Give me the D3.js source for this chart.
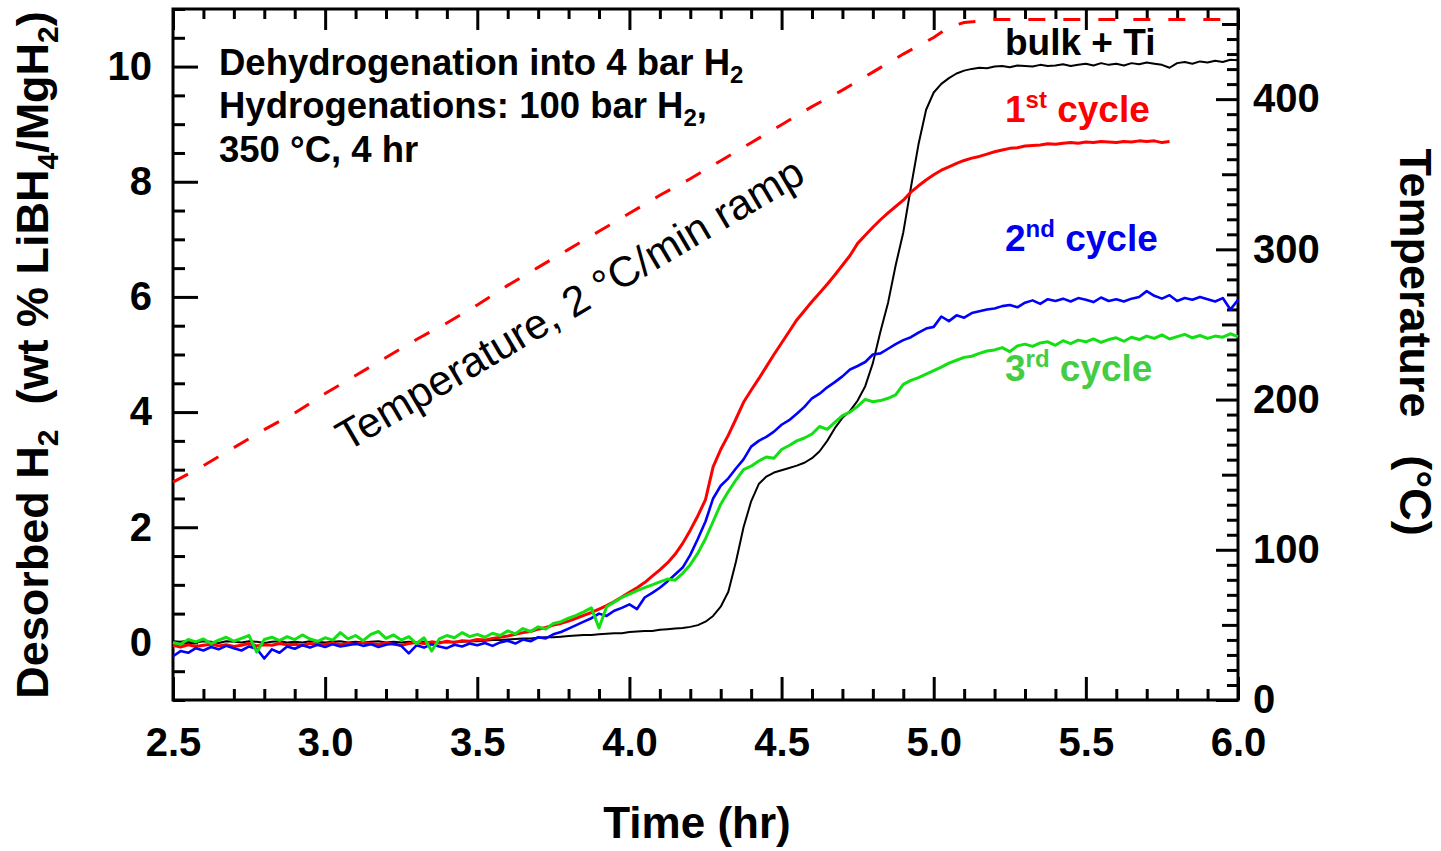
<!DOCTYPE html>
<html>
<head>
<meta charset="utf-8">
<script src="https://cdn.jsdelivr.net/npm/d3@7"></script>
<style>
  body { margin: 0; background: #fff; }
  text { font-family: "Liberation Sans", Arial, sans-serif; }
</style>
</head>
<body>
<svg id="chart" width="1441" height="851"></svg>
<script>
// time grid of the hydrogen curves (hr)
const time = [
  2.500, 2.525, 2.550, 2.575, 2.600, 2.625, 2.650, 2.675, 2.700, 2.725,
  2.750, 2.775, 2.800, 2.825, 2.850, 2.875, 2.900, 2.925, 2.950, 2.975,
  3.000, 3.025, 3.050, 3.075, 3.100, 3.125, 3.150, 3.175, 3.200, 3.225,
  3.250, 3.275, 3.300, 3.325, 3.350, 3.375, 3.400, 3.425, 3.450, 3.475,
  3.500, 3.525, 3.550, 3.575, 3.600, 3.625, 3.650, 3.675, 3.700, 3.725,
  3.750, 3.775, 3.800, 3.825, 3.850, 3.875, 3.900, 3.925, 3.950, 3.975,
  4.000, 4.025, 4.050, 4.075, 4.100, 4.125, 4.150, 4.175, 4.200, 4.225,
  4.250, 4.275, 4.300, 4.325, 4.350, 4.375, 4.400, 4.425, 4.450, 4.475,
  4.500, 4.525, 4.550, 4.575, 4.600, 4.625, 4.650, 4.675, 4.700, 4.725,
  4.750, 4.775, 4.800, 4.825, 4.850, 4.875, 4.900, 4.925, 4.950, 4.975,
  5.000, 5.025, 5.050, 5.075, 5.100, 5.125, 5.150, 5.175, 5.200, 5.225,
  5.250, 5.275, 5.300, 5.325, 5.350, 5.375, 5.400, 5.425, 5.450, 5.475,
  5.500, 5.525, 5.550, 5.575, 5.600, 5.625, 5.650, 5.675, 5.700, 5.725,
  5.750, 5.775, 5.800, 5.825, 5.850, 5.875, 5.900, 5.925, 5.950, 5.975,
  6.000
];

// desorbed H2 (wt %), bulk + Ti
const bulkTi = [
  0.02, 0.01, 0.03, 0.00, 0.02, 0.01, -0.01, 0.02, 0.01, 0.00,
  0.02, 0.01, -0.01, 0.01, 0.02, 0.00, 0.01, 0.00, 0.02, 0.01,
  0.00, 0.01, 0.02, 0.00, 0.01, 0.00, 0.01, 0.02, 0.00, 0.01,
  0.00, 0.01, 0.00, 0.01, 0.00, 0.01, 0.00, 0.01, 0.01, 0.02,
  0.02, 0.03, 0.04, 0.04, 0.05, 0.06, 0.07, 0.07, 0.08, 0.09,
  0.09, 0.10, 0.11, 0.12, 0.13, 0.13, 0.14, 0.15, 0.16, 0.16,
  0.18, 0.19, 0.20, 0.20, 0.22, 0.23, 0.24, 0.25, 0.27, 0.30,
  0.36, 0.46, 0.62, 0.88, 1.40, 2.00, 2.45, 2.75, 2.88, 2.95,
  2.99, 3.03, 3.07, 3.12, 3.20, 3.32, 3.50, 3.72, 3.90, 4.02,
  4.20, 4.45, 4.85, 5.40, 5.90, 6.55, 7.12, 7.90, 8.65, 9.25,
  9.55, 9.70, 9.80, 9.88, 9.93, 9.96, 9.98, 9.97, 10.00, 10.01,
  9.99, 10.02, 10.01, 10.00, 10.03, 10.01, 10.02, 10.04, 10.01, 10.03,
  10.05, 10.02, 10.06, 10.03, 10.05, 10.02, 10.06, 10.04, 10.07, 10.05,
  10.03, 9.98, 10.06, 10.08, 10.05, 10.09, 10.07, 10.10, 10.08, 10.12,
  10.11
];

// 1st cycle (ends at ~5.8 hr)
const cycle1 = [
  -0.05, -0.08, -0.04, -0.07, -0.05, -0.03, -0.06, -0.04, -0.07, -0.05,
  -0.02, -0.06, -0.04, -0.05, -0.02, -0.04, -0.03, -0.05, -0.02, -0.04,
  -0.03, -0.01, -0.04, -0.02, -0.03, 0.00, -0.02, -0.04, -0.01, -0.03,
  -0.05, -0.02, 0.00, -0.02, 0.01, -0.01, 0.02, 0.00, 0.03, 0.02,
  0.05, 0.04, 0.07, 0.09, 0.11, 0.14, 0.17, 0.19, 0.23, 0.26,
  0.30, 0.33, 0.37, 0.42, 0.47, 0.52, 0.58, 0.64, 0.71, 0.79,
  0.87, 0.95, 1.04, 1.15, 1.26, 1.38, 1.53, 1.72, 1.95, 2.20,
  2.48, 3.05, 3.35, 3.60, 3.88, 4.17, 4.38, 4.58, 4.79, 5.00,
  5.20, 5.40, 5.60, 5.76, 5.92, 6.07, 6.22, 6.38, 6.55, 6.72,
  6.93, 7.07, 7.21, 7.34, 7.46, 7.57, 7.68, 7.82, 7.93, 8.03,
  8.12, 8.20, 8.26, 8.32, 8.37, 8.41, 8.44, 8.48, 8.52, 8.55,
  8.58, 8.59, 8.62, 8.63, 8.64, 8.66, 8.65, 8.67, 8.68, 8.67,
  8.69, 8.68, 8.70, 8.69, 8.68, 8.70, 8.69, 8.71, 8.70, 8.71,
  8.68, 8.70, null, null, null, null, null, null, null, null,
  null
];

// 2nd cycle
const cycle2 = [
  -0.24, -0.15, -0.18, -0.10, -0.14, -0.08, -0.12, -0.06, -0.10, -0.14,
  -0.07, -0.11, -0.28, -0.12, -0.18, -0.07, -0.11, -0.05, -0.09, -0.04,
  -0.08, -0.03, -0.07, -0.05, -0.02, -0.06, -0.03, -0.08, -0.04, -0.02,
  -0.06, -0.19, -0.05, -0.09, -0.03, -0.07, -0.10, -0.04, -0.07, -0.02,
  -0.05, -0.01, -0.06, 0.00, 0.03, -0.02, 0.05, 0.02, 0.09, 0.07,
  0.14, 0.18, 0.24, 0.30, 0.36, 0.42, 0.50, 0.46, 0.55, 0.60,
  0.66, 0.58, 0.78, 0.86, 0.95, 1.06, 1.18, 1.30, 1.52, 1.80,
  2.10, 2.50, 2.72, 2.85, 3.02, 3.18, 3.40, 3.50, 3.57, 3.66,
  3.78, 3.86, 3.97, 4.09, 4.24, 4.32, 4.43, 4.52, 4.62, 4.74,
  4.80, 4.87, 5.00, 5.02, 5.10, 5.18, 5.25, 5.30, 5.38, 5.45,
  5.48, 5.66, 5.58, 5.68, 5.64, 5.72, 5.75, 5.78, 5.80, 5.84,
  5.86, 5.82, 5.90, 5.94, 5.88, 5.96, 5.93, 5.97, 5.92, 5.98,
  5.95, 5.91, 5.99, 5.93, 5.96, 5.92, 5.97, 6.00, 6.10, 6.02,
  5.97, 6.03, 5.93, 5.98, 5.95, 6.00, 5.96, 5.92, 5.98, 5.78,
  5.95
];

// 3rd cycle
const cycle3 = [
  0.00, -0.03, 0.05, 0.01, 0.06, -0.02, 0.04, 0.09, 0.02, 0.07,
  0.12, -0.17, 0.05, 0.09, 0.03, 0.10, 0.05, 0.13, 0.06, 0.02,
  0.08, 0.04, 0.17, 0.06, 0.12, 0.03, 0.14, 0.19, 0.07, 0.13,
  0.04, 0.10, -0.02, 0.08, -0.15, 0.06, 0.12, 0.08, 0.17, 0.10,
  0.14, 0.09, 0.16, 0.12, 0.20, 0.15, 0.24, 0.19, 0.27, 0.23,
  0.33, 0.36, 0.42, 0.47, 0.53, 0.60, 0.25, 0.62, 0.70, 0.78,
  0.84, 0.90, 0.95, 1.00, 1.05, 1.10, 1.08, 1.20, 1.35, 1.55,
  1.80, 2.10, 2.40, 2.62, 2.82, 3.00, 3.06, 3.15, 3.22, 3.20,
  3.35, 3.42, 3.50, 3.55, 3.62, 3.75, 3.70, 3.82, 3.94, 4.00,
  4.10, 4.22, 4.18, 4.20, 4.24, 4.30, 4.48, 4.55, 4.60, 4.66,
  4.72, 4.78, 4.85, 4.90, 4.95, 4.97, 5.02, 5.06, 5.08, 5.12,
  5.05, 5.15, 5.18, 5.14, 5.20, 5.22, 5.16, 5.24, 5.19, 5.25,
  5.22, 5.27, 5.21, 5.26, 5.29, 5.23, 5.30, 5.26, 5.32, 5.28,
  5.34, 5.27, 5.31, 5.35, 5.29, 5.33, 5.28, 5.32, 5.30, 5.36,
  5.31
];

// temperature ramp (right axis, deg C)
const tempTime = [
  2.5, 2.6, 2.7, 2.8, 2.9, 3.0, 3.1, 3.2, 3.3, 3.4,
  3.5, 3.6, 3.7, 3.8, 3.9, 4.0, 4.1, 4.2, 4.3, 4.4,
  4.5, 4.6, 4.7, 4.8, 4.9, 5.0, 5.05, 5.1, 5.2, 5.3,
  5.4, 5.5, 5.6, 5.7, 5.8, 5.9, 6.0
];
const tempC = [
  145, 156, 168, 180, 191, 204, 216, 228, 240, 251,
  263, 276, 288, 300, 312, 324, 336, 347, 359, 371,
  383, 395, 406, 418, 430, 441, 448, 451, 453, 453,
  453, 453, 453, 453, 453, 453, 453
];

const xTicks = [2.5, 3.0, 3.5, 4.0, 4.5, 5.0, 5.5, 6.0];
const yLeftTicks = [0, 2, 4, 6, 8, 10];
const yRightTicks = [0, 100, 200, 300, 400];

const svg = d3.select("#chart");
const font = '"Liberation Sans", Arial, sans-serif';

// plot box
const boxLeft = 173, boxRight = 1238, boxTop = 9, boxBottom = 700;

const x = d3.scaleLinear().domain([2.5, 6.0]).range([boxLeft, boxRight]);
const yL = d3.scaleLinear().domain([-1, 11]).range([boxBottom, boxTop]);
const yR = d3.scaleLinear().domain([0, 460]).range([boxBottom, boxTop]);

const near = (a, b) => Math.abs(a - b) < 1e-6;
const xMinor = d3.range(2.5, 6.001, 0.1).filter(v => !xTicks.some(t => near(t, v)));
const yLMinor = d3.range(-1, 11.001, 0.5).filter(v => !yLeftTicks.some(t => near(t, v)));
const yRMid = [50, 150, 250, 350, 450];
const yRMinor = d3.range(10, 460, 10).filter(v => v % 50 !== 0);

function styleAxis(g, labelled) {
  g.select(".domain").remove();
  g.selectAll(".tick line").attr("stroke", "#000").attr("stroke-width", 3);
  if (labelled) {
    g.selectAll(".tick text")
      .attr("fill", "#000")
      .style("font-family", font)
      .style("font-size", "40px")
      .style("font-weight", "bold");
  } else {
    g.selectAll(".tick text").remove();
  }
}

// bottom axis
svg.append("g").attr("transform", `translate(0,${boxBottom})`)
  .call(d3.axisBottom(x).tickValues(xMinor).tickSize(-11).tickFormat(""))
  .call(g => styleAxis(g, false));
svg.append("g").attr("transform", `translate(0,${boxBottom})`)
  .call(d3.axisBottom(x).tickValues(xTicks).tickSize(-23).tickPadding(28).tickFormat(d3.format(".1f")))
  .call(g => styleAxis(g, true));

// top axis (ticks only)
svg.append("g").attr("transform", `translate(0,${boxTop})`)
  .call(d3.axisTop(x).tickValues(xMinor).tickSize(-10))
  .call(g => styleAxis(g, false));
svg.append("g").attr("transform", `translate(0,${boxTop})`)
  .call(d3.axisTop(x).tickValues(xTicks).tickSize(-21))
  .call(g => styleAxis(g, false));

// left axis
svg.append("g").attr("transform", `translate(${boxLeft},0)`)
  .call(d3.axisLeft(yL).tickValues(yLMinor).tickSize(-12))
  .call(g => styleAxis(g, false));
svg.append("g").attr("transform", `translate(${boxLeft},0)`)
  .call(d3.axisLeft(yL).tickValues(yLeftTicks).tickSize(-25).tickPadding(21))
  .call(g => styleAxis(g, true));

// right axis
svg.append("g").attr("transform", `translate(${boxRight},0)`)
  .call(d3.axisRight(yR).tickValues(yRMinor).tickSize(-11))
  .call(g => styleAxis(g, false));
svg.append("g").attr("transform", `translate(${boxRight},0)`)
  .call(d3.axisRight(yR).tickValues(yRMid).tickSize(-16))
  .call(g => styleAxis(g, false));
svg.append("g").attr("transform", `translate(${boxRight},0)`)
  .call(d3.axisRight(yR).tickValues(yRightTicks).tickSize(-22).tickPadding(15))
  .call(g => styleAxis(g, true));

// frame
svg.append("rect")
  .attr("x", boxLeft).attr("y", boxTop)
  .attr("width", boxRight - boxLeft).attr("height", boxBottom - boxTop)
  .attr("fill", "none").attr("stroke", "#000").attr("stroke-width", 3);

// curves
const plot = svg.append("g");
const h2Line = d3.line()
  .defined(d => d[1] !== null)
  .x(d => x(d[0]))
  .y(d => yL(d[1]));

const series = [
  {values: bulkTi, color: "#000000", width: 2},
  {values: cycle1, color: "#ff0000", width: 3},
  {values: cycle2, color: "#0000ff", width: 2.6},
  {values: cycle3, color: "#13e013", width: 3}
];
series.forEach(s => {
  plot.append("path")
    .datum(time.map((t, i) => [t, s.values[i]]))
    .attr("d", h2Line)
    .attr("fill", "none")
    .attr("stroke", s.color)
    .attr("stroke-width", s.width)
    .attr("stroke-linejoin", "round");
});

const tempLine = d3.line()
  .x(d => x(d[0]))
  .y(d => yR(d[1]));
plot.append("path")
  .datum(tempTime.map((t, i) => [t, tempC[i]]))
  .attr("d", tempLine)
  .attr("fill", "none")
  .attr("stroke", "#ff0000")
  .attr("stroke-width", 3)
  .attr("stroke-dasharray", "17,18");

// annotation block
const note = svg.append("text")
  .attr("font-family", font).attr("font-weight", "bold")
  .attr("font-size", 36.5).attr("fill", "#000");
note.append("tspan").attr("x", 219).attr("y", 75).text("Dehydrogenation into 4 bar H");
note.append("tspan").attr("font-size", 24).attr("dy", 8).text("2");
note.append("tspan").attr("x", 219).attr("y", 118).text("Hydrogenations: 100 bar H");
note.append("tspan").attr("font-size", 24).attr("dy", 8).text("2");
note.append("tspan").attr("dy", -8).text(",");
note.append("tspan").attr("x", 219).attr("y", 162).text("350 \u00B0C, 4 hr");

// ramp label
svg.append("text")
  .attr("transform", "translate(347,452) rotate(-30.5)")
  .attr("font-family", font).attr("font-size", 42.5).attr("fill", "#000")
  .text("Temperature, 2 \u00B0C/min ramp");

// series labels
function seriesLabel(y, color, main, sup, rest) {
  const t = svg.append("text")
    .attr("x", 1005).attr("y", y)
    .attr("font-family", font).attr("font-weight", "bold")
    .attr("font-size", 37).attr("fill", color);
  t.append("tspan").text(main);
  if (sup) {
    t.append("tspan").attr("font-size", 24).attr("dy", -14).text(sup);
    t.append("tspan").attr("dy", 14).text(rest);
  }
}
seriesLabel(55, "#000000", "bulk + Ti");
seriesLabel(122, "#ff0000", "1", "st", " cycle");
seriesLabel(251, "#0000ee", "2", "nd", " cycle");
seriesLabel(381, "#44cc44", "3", "rd", " cycle");

// axis titles
svg.append("text")
  .attr("x", 697).attr("y", 838)
  .attr("text-anchor", "middle")
  .attr("font-family", font).attr("font-weight", "bold").attr("font-size", 44)
  .text("Time (hr)");

const yTitle = svg.append("text")
  .attr("transform", "translate(48,355) rotate(-90)")
  .attr("text-anchor", "middle")
  .attr("font-family", font).attr("font-weight", "bold").attr("font-size", 45)
  .style("white-space", "pre");
yTitle.append("tspan").text("Desorbed H");
yTitle.append("tspan").attr("font-size", 30).attr("dy", 10).text("2");
yTitle.append("tspan").attr("dy", -10).text("  (wt % LiBH");
yTitle.append("tspan").attr("font-size", 30).attr("dy", 10).text("4");
yTitle.append("tspan").attr("dy", -10).text("/MgH");
yTitle.append("tspan").attr("font-size", 30).attr("dy", 10).text("2");
yTitle.append("tspan").attr("dy", -10).text(")");

svg.append("text")
  .attr("transform", "translate(1400,342) rotate(90)")
  .attr("text-anchor", "middle")
  .attr("font-family", font).attr("font-weight", "bold").attr("font-size", 45)
  .style("white-space", "pre")
  .text("Temperature   (\u00B0C)");
</script>
</body>
</html>
